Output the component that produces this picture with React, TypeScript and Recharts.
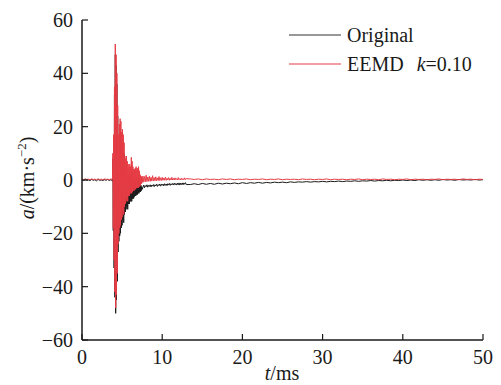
import { LineChart, Line, XAxis, YAxis } from 'recharts'

// time grid for each stretch of the record (ms): start + step
const quietStart = 0
const quietStep = 0.2
const burstStart = 3.85
const burstStep = 0.05
const decayStart = 7.6
const decayStep = 0.1
const tailStart = 13.5
const tailStep = 0.5

// acceleration, km·s^-2
const quietOriginal = [0.1, -0.2, 0.2, -0.1, 0.0, -0.2, 0.2, -0.1, 0.1, -0.3, 0.2, -0.1, 0.0, -0.2, 0.1, -0.1, 0.2, -0.2, 0.1, -0.3]
const quietEemd = [0.3, 0.1, 0.4, 0.2, 0.3, 0.1, 0.4, 0.2, 0.3, 0.1, 0.4, 0.2, 0.3, 0.1, 0.4, 0.2, 0.3, 0.1, 0.4, 0.2]

const burstOriginal = [
  8, -19, 14, -33,
  32, -44, 47, -50, 43, -45, 36, -38, 24, -27,
  13, -23, 17, -21, 19, -20, 18, -18, 14, -17,
  15, -15, 13, -16, 10, -13, 5, -12, 4, -11,
  5, -10, 3, -11, 2, -9, 1, -9, 2, -8,
  1, -8, 4, -8, 3, -7, 1, -7, 0, -6.5,
  0, -6, 0.5, -6, 1, -5.5, 0, -5.5, 0.5, -5,
  1, -5, -0.5, -4.5, -1.5, -4.5, -2, -4, -2.5, -3.5,
]
const burstEemd = [
  10, -18, 17, -30,
  35, -42, 51, -48, 47, -43, 40, -35, 28, -24,
  17, -20, 21, -18, 23, -17, 22, -15, 18, -14,
  19, -12, 17, -13, 14, -10, 9, -9, 8, -8,
  9, -7, 7, -8, 6, -6, 5, -6, 6, -5,
  5, -5, 8.5, -5, 7, -4.5, 5, -4, 4, -4,
  4, -3.5, 4.5, -3.5, 5, -3, 4, -3, 4.5, -3,
  5, -2.5, 3.5, -2.5, 2, -2, 1.5, -1.5, 1.2, -1,
]

const decayOriginal = [
  -2.7, -1.9, -2.9, -2.1, -2.5, -1.8, -2.7, -2.0, -2.4, -1.8,
  -2.6, -1.9, -2.3, -1.7, -2.5, -1.8, -2.2, -1.6, -2.4, -1.7,
  -2.1, -1.5, -2.3, -1.6, -2.0, -1.5, -2.2, -1.4, -2.0, -1.5,
  -2.1, -1.4, -1.9, -1.3, -2.0, -1.4, -1.8, -1.3, -1.9, -1.2,
  -1.8, -1.3, -1.9, -1.2, -1.8, -1.1, -1.9, -1.2, -1.7, -1.1,
  -1.8, -1.1, -1.6, -1.0, -1.7,
]
const decayEemd = [
  1.5, -0.8, 1.3, -0.7, 1.8, -0.6, 1.1, -0.5, 1.4, -0.5,
  1.0, -0.4, 1.6, -0.4, 0.9, -0.3, 1.2, -0.3, 0.8, -0.2,
  1.3, -0.2, 0.8, -0.2, 1.0, -0.1, 0.7, -0.1, 1.1, -0.1,
  0.6, 0.0, 0.9, -0.1, 0.6, 0.0, 1.0, 0.0, 0.6, 0.0,
  0.8, 0.1, 0.5, 0.0, 0.9, 0.1, 0.5, 0.0, 0.7, 0.1,
  0.5, 0.1, 0.8, 0.1, 0.5,
]

const tailOriginal = [
  -1.7, -1.4, -1.7, -1.3, -1.6, -1.3, -1.6, -1.2, -1.5, -1.2,
  -1.4, -1.1, -1.4, -1.0, -1.3, -1.0, -1.2, -0.9, -1.2, -0.9,
  -1.1, -0.8, -1.0, -0.8, -1.0, -0.7, -0.9, -0.7, -0.8, -0.6,
  -0.8, -0.6, -0.7, -0.5, -0.7, -0.5, -0.6, -0.4, -0.6, -0.4,
  -0.5, -0.3, -0.5, -0.3, -0.4, -0.2, -0.4, -0.2, -0.3, -0.1,
  -0.3, -0.1, -0.2, 0.0, -0.2, 0.0, -0.2, 0.1, -0.1, 0.1,
  -0.1, 0.1, -0.1, 0.2, 0.0, 0.1, -0.1, 0.2, 0.0, 0.1,
  0.0, 0.2, 0.0, 0.1,
]
const tailEemd = [
  0.4, 0.2, 0.4, 0.1, 0.4, 0.2, 0.3, 0.1, 0.4, 0.2,
  0.4, 0.1, 0.3, 0.2, 0.4, 0.1, 0.3, 0.2, 0.4, 0.1,
  0.3, 0.2, 0.4, 0.1, 0.3, 0.2, 0.3, 0.1, 0.4, 0.2,
  0.3, 0.1, 0.3, 0.2, 0.4, 0.1, 0.3, 0.2, 0.3, 0.1,
  0.3, 0.2, 0.4, 0.1, 0.3, 0.2, 0.3, 0.1, 0.4, 0.2,
  0.3, 0.1, 0.3, 0.2, 0.4, 0.1, 0.3, 0.2, 0.3, 0.1,
  0.3, 0.2, 0.4, 0.1, 0.3, 0.2, 0.3, 0.1, 0.4, 0.2,
  0.3, 0.1, 0.3, 0.2,
]

const xTicks = [0, 10, 20, 30, 40, 50]
const yTicks = [-60, -40, -20, 0, 20, 40, 60]

type Row = { t: number; original: number; eemd: number }

function segment(start: number, step: number, orig: number[], eemd: number[]): Row[] {
  return orig.map((v, i) => ({ t: +(start + i * step).toFixed(2), original: v, eemd: eemd[i] }))
}

const data: Row[] = [
  ...segment(quietStart, quietStep, quietOriginal, quietEemd),
  ...segment(burstStart, burstStep, burstOriginal, burstEemd),
  ...segment(decayStart, decayStep, decayOriginal, decayEemd),
  ...segment(tailStart, tailStep, tailOriginal, tailEemd),
]

const FONT = '"Liberation Serif", "Times New Roman", serif'
const RED = '#e63c45'
const INK = '#1a1a1a'

const minus = (v: number) => String(v).replace('-', '\u2212')

const YLabel = () => (
  <text x={0} y={0} transform="translate(34,178) rotate(-90)" textAnchor="middle" fontFamily={FONT} fontSize={20} fill={INK}>
    <tspan fontStyle="italic">a</tspan>
    <tspan>/(km·s</tspan>
    <tspan dy={-8} fontSize={13}>−2</tspan>
    <tspan dy={8}>)</tspan>
  </text>
)

const XLabel = () => (
  <text x={282} y={380} textAnchor="middle" fontFamily={FONT} fontSize={20} fill={INK}>
    <tspan fontStyle="italic">t</tspan>
    <tspan>/ms</tspan>
  </text>
)

export default function App() {
  if (typeof document !== 'undefined') document.body.style.margin = '0'
  return (
    <div style={{ position: 'relative', width: 501, height: 385, background: '#fff', fontFamily: FONT }}>
      <LineChart width={501} height={385} data={data} margin={{ top: 20, right: 18, bottom: 15, left: 0 }}>
        <XAxis
          dataKey="t"
          type="number"
          domain={[0, 50]}
          ticks={xTicks}
          allowDataOverflow
          height={30}
          tickSize={-6}
          tickMargin={16}
          axisLine={{ stroke: INK, strokeWidth: 1.5 }}
          tickLine={{ stroke: INK, strokeWidth: 1.2 }}
          tick={{ fill: INK, fontSize: 20, fontFamily: FONT }}
        />
        <YAxis
          type="number"
          domain={[-60, 60]}
          ticks={yTicks}
          width={82}
          tickSize={-6}
          tickMargin={15}
          tickFormatter={minus}
          axisLine={{ stroke: INK, strokeWidth: 1.5 }}
          tickLine={{ stroke: INK, strokeWidth: 1.2 }}
          tick={{ fill: INK, fontSize: 20, fontFamily: FONT }}
        />
        <Line dataKey="original" type="linear" stroke={INK} strokeWidth={1} dot={false} isAnimationActive={false} />
        <Line dataKey="eemd" type="linear" stroke={RED} strokeWidth={1} dot={false} isAnimationActive={false} />
      </LineChart>
      <svg width={501} height={385} style={{ position: 'absolute', left: 0, top: 0, pointerEvents: 'none' }}>
        <YLabel />
        <XLabel />
        <line x1={289} x2={341} y1={35} y2={35} stroke="#333" strokeWidth={1.2} />
        <text x={347} y={35} dominantBaseline="central" fontFamily={FONT} fontSize={20} fill={INK}>Original</text>
        <line x1={289} x2={341} y1={64} y2={64} stroke={RED} strokeWidth={1.2} />
        <text x={347} y={64} dominantBaseline="central" fontFamily={FONT} fontSize={20} fill={INK}>
          <tspan>EEMD</tspan>
          <tspan dx={13} fontStyle="italic">k</tspan>
          <tspan>=0.10</tspan>
        </text>
      </svg>
    </div>
  )
}
